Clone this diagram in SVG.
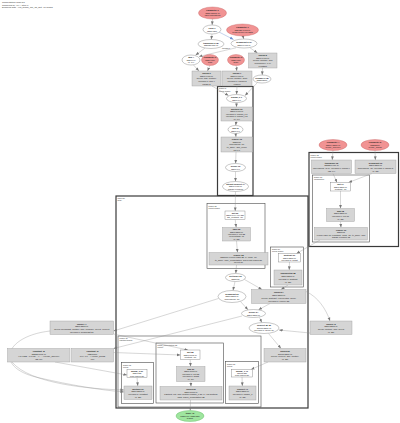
<svg xmlns="http://www.w3.org/2000/svg" width="400" height="423" viewBox="0 0 400 423">
<defs>
<marker id="ah" markerWidth="4" markerHeight="4" refX="3.6" refY="2" orient="auto" markerUnits="userSpaceOnUse"><path d="M0,0.6 L3.6,2 L0,3.4 Z" fill="#777"/></marker>
<marker id="ahb" markerWidth="4" markerHeight="4" refX="3.6" refY="2" orient="auto" markerUnits="userSpaceOnUse"><path d="M0,0.6 L3.6,2 L0,3.4 Z" fill="#6a8fd0"/></marker>
</defs>
<style>
text{font-family:"Liberation Sans",Arial,sans-serif;font-size:2.2px;fill:#222;text-anchor:middle}
.b{font-weight:bold}
.h{text-anchor:start;font-size:2.4px;fill:#333}
.cl{text-anchor:start;font-size:2px;fill:#333}
.par{fill:#f19393;stroke:#c76464;stroke-width:0.4}
.out{fill:#9fe59f;stroke:#5fb85f;stroke-width:0.4}
.op{fill:#ffffff;stroke:#777;stroke-width:0.4}
.fu{fill:#d5d5d5;stroke:#9c9c9c;stroke-width:0.4}
.big{fill:none;stroke:#3a3a3a;stroke-width:1.2}
.sub{fill:none;stroke:#4a4a4a;stroke-width:0.6}
.e{fill:none;stroke:#8a8a8a;stroke-width:0.35;marker-end:url(#ah)}
.eb{fill:none;stroke:#6a8fd0;stroke-width:0.4;marker-end:url(#ahb)}
</style>
<rect width="400" height="423" fill="#ffffff"/>
<g id="header">
<text class="h" x="2" y="3.2">Computation main.57</text>
<text class="h" x="2" y="5.8">Compiled by XLA, step 0</text>
<text class="h" x="2" y="8.4">Dumped with --xla_dump_hlo_as_dot; 48 nodes</text>
</g>
<g id="clusters">
<rect class="big" x="217.5" y="86.5" width="35.5" height="109"/>
<text class="cl" x="219" y="89.3">fusion.8</text><text class="cl" x="219" y="91.6">kLoop fusion</text>
<rect class="big" x="116" y="196" width="192" height="212"/>
<text class="cl" x="117.5" y="199">while.20</text><text class="cl" x="117.5" y="201.3">body</text>
<rect class="sub" x="207" y="203.5" width="58" height="65"/>
<text class="cl" x="208.5" y="206.5">fusion.21</text><text class="cl" x="208.5" y="208.8">kInput fusion</text>
<rect class="sub" x="270.5" y="247" width="33" height="40"/>
<text class="cl" x="272" y="250">fusion.24</text><text class="cl" x="272" y="252.3">kLoop fusion</text>
<rect class="sub" x="118" y="336" width="143" height="71"/>
<text class="cl" x="119.5" y="339">fusion.30</text><text class="cl" x="119.5" y="341.3">kOutput fusion</text>
<rect class="sub" x="121.5" y="362.5" width="32" height="41"/>
<text class="cl" x="123" y="365.5">fusion.31</text><text class="cl" x="123" y="367.8">kLoop</text>
<rect class="sub" x="156" y="343" width="67.5" height="60"/>
<text class="cl" x="157.5" y="346">fused_computation.32</text><text class="cl" x="157.5" y="348.3">kInput</text>
<rect class="sub" x="225.5" y="361.5" width="33" height="42"/>
<text class="cl" x="227" y="364.5">fusion.33</text><text class="cl" x="227" y="366.8">kLoop</text>
<rect class="big" x="309" y="152.5" width="89.5" height="94"/>
<text class="cl" x="310.5" y="155.5">fusion.12</text><text class="cl" x="310.5" y="157.8">kInput fusion</text>
<rect class="sub" x="312.5" y="175" width="57" height="67"/>
<text class="cl" x="314" y="178">fusion.13</text><text class="cl" x="314" y="180.3">kReduction</text>
</g>
<g id="connectors">
<path class="e" d="M212.5,19 L212.1,25"/>
<path class="e" d="M212,34 L211.2,39.5"/>
<path class="e" d="M243,36 L243.8,39"/>
<path class="eb" d="M219,32 L233.5,39.5"/>
<path class="e" d="M205,48 L195.5,55.2"/>
<path class="e" d="M250,47.8 L257.5,53"/>
<path class="e" d="M236,47.8 L199,56.5"/>
<text x="226" y="49.2" style="font-size:1.8px">operand 1</text>
<path class="e" d="M193.5,65 L199,71"/>
<path class="e" d="M209.8,65.5 L207.5,71"/>
<path class="e" d="M236.2,65.5 L236.8,71"/>
<path class="e" d="M262.5,68 L262.2,75"/>
<path class="e" d="M237,86 L236.6,94.5"/>
<path class="e" d="M212,86 L228.5,95.6"/>
<path class="e" d="M257.5,82.5 L245,95.6"/>
<path class="e" d="M236.5,102.5 L236.5,107"/>
<path class="e" d="M236.3,121 L235.7,125.5"/>
<path class="e" d="M235.6,133.5 L236,137"/>
<path class="e" d="M236,152 L235.6,163.5"/>
<path class="e" d="M235.5,171.5 L235.5,181.5"/>
<path class="e" d="M235.5,191.5 L235.2,211"/>
<path class="e" d="M235.2,219.5 L236.2,227.5"/>
<path class="e" d="M236.5,241 L237.5,252.5"/>
<path class="e" d="M236.5,265 L235.8,273.5"/>
<path class="e" d="M235,281.5 L233,290.5"/>
<path class="e" d="M244.5,279.5 L262,289.5"/>
<path class="e" d="M240.5,301.5 L248,309.8"/>
<path class="e" d="M270,303.5 L258.5,309.8"/>
<path class="e" d="M288,285 L281,289.5"/>
<path class="e" d="M289.5,262 L289.2,270"/>
<path class="e" d="M320,240 L296.5,253.5"/>
<path class="e" d="M340.5,191 L340.5,208.5"/>
<path class="e" d="M340.5,221.5 L341,227.5"/>
<path class="e" d="M333,173.5 L337,182.5"/>
<path class="e" d="M372,173.5 L348.5,182.5"/>
<path class="e" d="M333,150.5 L332.2,160"/>
<path class="e" d="M375,150.5 L375.4,160"/>
<path class="e" d="M259.5,317.5 L261.8,322.5"/>
<path class="e" d="M306,291.5 C318,297 326,309 330,321"/>
<path class="e" d="M310,333 L279,330"/>
<path class="e" d="M268.5,333.5 L281,348.5"/>
<path class="e" d="M268,362 L251,369.5"/>
<path class="e" d="M242,316 L113.5,348.5"/>
<path class="e" d="M218.5,298.5 L113.5,331"/>
<path class="e" d="M113.5,334 L188,350"/>
<path class="e" d="M50,331 C5,336 -8,368 40,378 C70,385 100,390 124,392"/>
<path class="e" d="M12,362 C30,384 90,389 124,390"/>
<path class="e" d="M55,362 L127,375"/>
<path class="e" d="M113.5,352.5 L180.5,355"/>
<path class="e" d="M137,377.5 L137.8,386"/>
<path class="e" d="M190.2,359.5 L190.6,366.5"/>
<path class="e" d="M190.8,381.5 L191,386.5"/>
<path class="e" d="M242,377 L242.4,386"/>
<path class="e" d="M190.5,400 L190.2,410.5"/>
</g>
<g id="n1"><ellipse class="par" cx="212.5" cy="13" rx="14" ry="6"/><text class="b" x="212.5" y="11.2">Parameter 0</text><text x="212.5" y="13.8">f32[8,128]{1,0}</text><text x="212.5" y="16.4">input activations</text></g>
<g id="n2"><ellipse class="op" cx="212" cy="29.5" rx="9" ry="4.5"/><text class="b" x="212" y="29">copy.1</text><text x="212" y="31.6">f32[8,128]</text></g>
<g id="n3"><ellipse class="par" cx="242.5" cy="30" rx="16" ry="6"/><text class="b" x="242.5" y="28.2">Parameter 1</text><text x="242.5" y="30.8">f32[128,64]{1,0}</text><text x="242.5" y="33.4">dense/kernel weights</text></g>
<g id="n4"><ellipse class="op" cx="211" cy="44" rx="13" ry="4.5"/><text class="b" x="211" y="43.5">transpose.2 (8)</text><text x="211" y="46.1">f32[128,8]{0,1}</text></g>
<g id="n5"><ellipse class="op" cx="244" cy="43.5" rx="13" ry="4.5"/><text class="b" x="244" y="43">broadcast.3 (0)</text><text x="244" y="45.6">f32[8,64]{1,0}</text></g>
<g id="n6"><ellipse class="op" cx="191" cy="60" rx="9" ry="5"/><text class="b" x="191" y="58.2">add.4</text><text x="191" y="60.8">f32[8,64]</text><text x="191" y="63.4">(8, 64)</text></g>
<g id="n7"><ellipse class="par" cx="210" cy="60" rx="8.5" ry="5.5"/><text class="b" x="210" y="58.2">Parameter 2</text><text x="210" y="60.8">f32[64]{0}</text><text x="210" y="63.4">bias</text></g>
<g id="n8"><ellipse class="par" cx="236" cy="60" rx="8.5" ry="5.5"/><text class="b" x="236" y="58.2">Parameter 3</text><text x="236" y="60.8">f32[64]{0}</text><text x="236" y="63.4">scale</text></g>
<g id="n9"><rect class="fu" x="248.5" y="53" width="28.5" height="15"/><text class="b" x="262.75" y="56.1">fusion.5</text><text x="262.75" y="58.7">f32[8,64]{1,0}</text><text x="262.75" y="61.3">kLoop: multiply, add</text><text x="262.75" y="63.9">maximum(x, 0.0)</text><text x="262.75" y="66.5">constant</text></g>
<g id="n10"><rect class="fu" x="192" y="71" width="29" height="15"/><text class="b" x="206.5" y="74.1">fusion.6</text><text x="206.5" y="76.7">f32[8,64]{1,0}</text><text x="206.5" y="79.3">kLoop: add, multiply</text><text x="206.5" y="81.9">operand 0: add.4</text><text x="206.5" y="84.5">param 2</text></g>
<g id="n11"><rect class="fu" x="222" y="71" width="30" height="15"/><text class="b" x="237" y="74.1">fusion.7</text><text x="237" y="76.7">f32[8,64]{1,0}</text><text x="237" y="79.3">kLoop: multiply, rsqrt</text><text x="237" y="81.9">operand 0: param 3</text><text x="237" y="84.5">epsilon</text></g>
<g id="n12"><ellipse class="op" cx="262" cy="79" rx="9" ry="4"/><text class="b" x="262" y="78.5">reshape.9 (8)</text><text x="262" y="81.1">f32[512]{0}</text></g>
<g id="n13"><ellipse class="op" cx="236.5" cy="98.5" rx="10" ry="4"/><text class="b" x="236.5" y="98">param_0.1</text><text x="236.5" y="100.6">f32[8,64]</text></g>
<g id="n14"><rect class="fu" x="221" y="107" width="31.5" height="14"/><text class="b" x="236.75" y="109.8">multiply.10</text><text x="236.75" y="112.3">f32[8,64]{1,0}</text><text x="236.75" y="114.8">operand 0: param_0.1</text><text x="236.75" y="117.3">operand 1: param_1.2</text><text x="236.75" y="119.8">(8, 64)</text></g>
<g id="n15"><ellipse class="op" cx="235.5" cy="129.5" rx="7.5" ry="4"/><text class="b" x="235.5" y="129">exp.11</text><text x="235.5" y="131.6">f32[8,64]</text></g>
<g id="n16"><rect class="fu" x="221" y="137" width="31.5" height="15"/><text class="b" x="236.75" y="140.1">reduce.12</text><text x="236.75" y="142.7">f32[8]{0}</text><text x="236.75" y="145.3">dimensions={1}</text><text x="236.75" y="147.9">to_apply=add_comp</text><text x="236.75" y="150.5">init 0.0</text></g>
<g id="n17"><ellipse class="op" cx="235.5" cy="167.5" rx="10" ry="4"/><text class="b" x="235.5" y="167">divide.13</text><text x="235.5" y="169.6">f32[8,64]</text></g>
<g id="n18"><ellipse class="op" cx="235.5" cy="186.5" rx="13" ry="5"/><text class="b" x="235.5" y="184.7">bitcast-convert.14</text><text x="235.5" y="187.3">f32[8,64]{1,0}</text><text x="235.5" y="189.9">ROOT of fusion</text></g>
<g id="n19"><rect class="op" x="225" y="211" width="20" height="8.5"/><text class="b" x="235" y="213.7">dot.22</text><text x="235" y="216">f32[8,64] x [64,32]</text><text x="235" y="218.3">lhs_contract={1}</text></g>
<g id="n20"><rect class="fu" x="222.5" y="227.5" width="28" height="13.5"/><text class="b" x="236.5" y="230.25">tanh.23</text><text x="236.5" y="232.65">f32[8,32]{1,0}</text><text x="236.5" y="235.05">operand 0: dot.22</text><text x="236.5" y="237.45">elementwise op</text><text x="236.5" y="239.85">(8, 32)</text></g>
<g id="n21"><rect class="fu" x="209" y="252.5" width="59" height="12.5"/><text class="b" x="238.5" y="255.65">reduce.25</text><text x="238.5" y="258.25">f32[8]{0} reduce(tanh.23, c), dims={1}</text><text x="238.5" y="260.85">to_apply=max_computation, fused into fusion.21</text><text x="238.5" y="263.45">layout {0}</text></g>
<g id="n22"><ellipse class="op" cx="235.5" cy="277.5" rx="10" ry="4"/><text class="b" x="235.5" y="277">get-tuple.26</text><text x="235.5" y="279.6">f32[8]{0}</text></g>
<g id="n23"><rect class="op" x="278.5" y="253.5" width="22" height="8.5"/><text class="b" x="289.5" y="256.25">subtract.27</text><text x="289.5" y="258.55">f32[8,32]{1,0}</text><text x="289.5" y="260.85">operand 1: bcast</text></g>
<g id="n24"><rect class="fu" x="274" y="270" width="28" height="15"/><text class="b" x="288" y="274.1">exponential.28</text><text x="288" y="276.9">f32[8,32]{1,0}</text><text x="288" y="279.7">operand 0: subtract</text><text x="288" y="282.5">(8, 32)</text></g>
<g id="n25"><ellipse class="op" cx="232" cy="296.5" rx="14" ry="6"/><text class="b" x="232" y="294.7">broadcast.29</text><text x="232" y="297.3">f32[8,32]{1,0}</text><text x="232" y="299.9">dimensions={0}</text></g>
<g id="n26"><rect class="fu" x="251.5" y="289.5" width="54.5" height="14"/><text class="b" x="278.75" y="293.1">fusion.24</text><text x="278.75" y="295.9">f32[8,32]{1,0}</text><text x="278.75" y="298.7">kLoop: subtract, exponential, divide</text><text x="278.75" y="301.5">operand 0: reduce.25</text></g>
<g id="n27"><ellipse class="op" cx="253.5" cy="313.5" rx="12" ry="4"/><text class="b" x="253.5" y="313">divide.34</text><text x="253.5" y="315.6">f32[8,32]{1,0}</text></g>
<g id="n28"><ellipse class="op" cx="264" cy="328" rx="15" ry="5.5"/><text class="b" x="264" y="326.2">convert.35 (8)</text><text x="264" y="328.8">bf16[8,32]{1,0}</text><text x="264" y="331.4">operand 0: divide.34</text></g>
<g id="n29"><rect class="fu" x="264" y="348.5" width="42" height="13.5"/><text class="b" x="285" y="352">fusion.36</text><text x="285" y="354.7">bf16[8,32]{1,0}</text><text x="285" y="357.4">kLoop: convert, add, multiply</text><text x="285" y="360.1">(8, 32)</text></g>
<g id="n30"><rect class="op" x="127" y="369.5" width="20" height="8"/><text class="b" x="137" y="372">param_0.31</text><text x="137" y="374.3">f32[8,32]</text><text x="137" y="376.6">from fusion.30</text></g>
<g id="n31"><rect class="fu" x="124" y="386" width="28" height="13.5"/><text class="b" x="138" y="389.5">multiply.37</text><text x="138" y="392.2">f32[8,32]{1,0}</text><text x="138" y="394.9">operand 1: constant</text><text x="138" y="397.6">(8, 32)</text></g>
<g id="n32"><rect class="op" x="180.5" y="350" width="19.5" height="9.5"/><text class="b" x="190.25" y="352.95">dot.38</text><text x="190.25" y="355.55">f32[8,10]{1,0}</text><text x="190.25" y="358.15">contract={1}</text></g>
<g id="n33"><rect class="fu" x="176.5" y="366.5" width="28.5" height="15"/><text class="b" x="190.75" y="369.6">add.39</text><text x="190.75" y="372.2">f32[8,10]{1,0}</text><text x="190.75" y="374.8">operand 0: dot.38</text><text x="190.75" y="377.4">operand 1: bcast</text><text x="190.75" y="380">(8, 10)</text></g>
<g id="n34"><rect class="fu" x="160" y="386.5" width="62" height="13.5"/><text class="b" x="191" y="390">fusion.30</text><text x="191" y="392.7">f32[8,10]{1,0}</text><text x="191" y="395.4">kOutput: dot, add, multiply(param_0.31, c), log-softmax</text><text x="191" y="398.1">calls=fused_computation.32</text></g>
<g id="n35"><rect class="op" x="231.5" y="369.5" width="21" height="7.5"/><text class="b" x="242" y="371.85">param_1.40</text><text x="242" y="374.05">bf16[8,32]</text><text x="242" y="376.25">from fusion.36</text></g>
<g id="n36"><rect class="fu" x="229" y="386" width="27" height="14"/><text class="b" x="242.5" y="389.75">convert.41</text><text x="242.5" y="392.45">f32[8,32]{1,0}</text><text x="242.5" y="395.15">operand 0: param_1</text><text x="242.5" y="397.85">(8, 32)</text></g>
<g id="n37"><ellipse class="out" cx="190" cy="416" rx="14" ry="5.5"/><text class="b" x="190" y="414.2">tuple.42</text><text x="190" y="416.8">(f32[8,10], f32[8,32])</text><text x="190" y="419.4">ROOT</text></g>
<g id="n38"><ellipse class="par" cx="333" cy="145" rx="14" ry="5.5"/><text class="b" x="333" y="143.2">Parameter 4</text><text x="333" y="145.8">f32[64,32]{1,0}</text><text x="333" y="148.4">dense_1/kernel</text></g>
<g id="n39"><ellipse class="par" cx="375" cy="145" rx="14" ry="5.5"/><text class="b" x="375" y="143.2">Parameter 5</text><text x="375" y="145.8">f32[32]{0}</text><text x="375" y="148.4">dense_1/bias</text></g>
<g id="n40"><rect class="fu" x="311.5" y="160" width="40" height="13.5"/><text class="b" x="331.5" y="163.5">transpose.15</text><text x="331.5" y="166.2">f32[32,64]{0,1}</text><text x="331.5" y="168.9">dimensions={1,0}, operand 0: param 4</text><text x="331.5" y="171.6">(32, 64)</text></g>
<g id="n41"><rect class="fu" x="355" y="160" width="41" height="13.5"/><text class="b" x="375.5" y="163.5">broadcast.16</text><text x="375.5" y="166.2">f32[8,32]{1,0}</text><text x="375.5" y="168.9">dimensions={1}, operand 0: param 5</text><text x="375.5" y="171.6">(8, 32)</text></g>
<g id="n42"><rect class="op" x="330.5" y="182.5" width="20" height="8.5"/><text class="b" x="340.5" y="185.25">dot.17</text><text x="340.5" y="187.55">f32[8,32]{1,0}</text><text x="340.5" y="189.85">contract={1}</text></g>
<g id="n43"><rect class="fu" x="326.5" y="208.5" width="28" height="13"/><text class="b" x="340.5" y="211.75">add.18</text><text x="340.5" y="214.45">f32[8,32]{1,0}</text><text x="340.5" y="217.15">operand 0: dot.17</text><text x="340.5" y="219.85">(8, 32)</text></g>
<g id="n44"><rect class="fu" x="314.5" y="227.5" width="53" height="12.5"/><text class="b" x="341" y="230.65">reduce.19</text><text x="341" y="233.25">f32[8]{0}</text><text x="341" y="235.85">reduce(add.18, constant), dims={1}, to_apply=add</text><text x="341" y="238.45">ROOT of fusion.13</text></g>
<g id="n45"><rect class="fu" x="310" y="321" width="42" height="13.5"/><text class="b" x="331" y="324.5">fusion.43</text><text x="331" y="327.2">f32[8,32]{1,0}</text><text x="331" y="329.9">kLoop: multiply, add, select</text><text x="331" y="332.6">(8, 32)</text></g>
<g id="n46"><rect class="fu" x="50" y="321" width="63.5" height="13.5"/><text class="b" x="81.75" y="324.5">fusion.44</text><text x="81.75" y="327.2">f32[8,32]{1,0}</text><text x="81.75" y="329.9">kLoop: broadcast, multiply, add, compare, select, convert</text><text x="81.75" y="332.6">operand 0: broadcast.29</text></g>
<g id="n47"><rect class="fu" x="7.5" y="348.5" width="62.5" height="13.5"/><text class="b" x="38.75" y="352">constant.45</text><text x="38.75" y="354.7">f32[32,10]{1,0}</text><text x="38.75" y="357.4">{ {0.0132, -0.0411, ...}, ... } dense_2/kernel</text><text x="38.75" y="360.1">(32, 10)</text></g>
<g id="n48"><rect class="fu" x="71.5" y="348.5" width="42" height="13.5"/><text class="b" x="92.5" y="352">constant.46</text><text x="92.5" y="354.7">f32[10]{0}</text><text x="92.5" y="357.4">{0.0, 0.0, ...} dense_2/bias</text><text x="92.5" y="360.1">(10)</text></g>
</svg>
